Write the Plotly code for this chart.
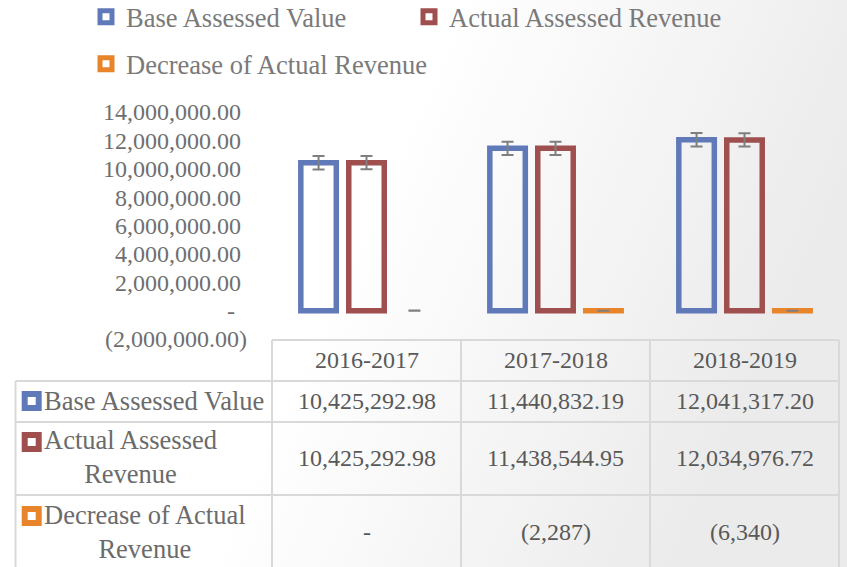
import base64
import plotly.graph_objects as go

# ---------------- data ----------------
categories = ["2016-2017", "2017-2018", "2018-2019"]
base_assessed_value = [10425292.98, 11440832.19, 12041317.20]
actual_assessed_revenue = [10425292.98, 11438544.95, 12034976.72]
decrease_actual_revenue = [0.0, -2287.24, -6340.48]

# standard-error bars (as shown in the chart)
base_err = [471000, 471000, 471000]
actual_err = [469000, 469000, 469000]
decrease_err = [1835, 1835, 1835]

series_names = ["Base Assessed Value", "Actual Assessed Revenue", "Decrease of Actual Revenue"]
table_row_labels = ["Base Assessed Value", "Actual Assessed<br>Revenue", "Decrease of Actual<br>Revenue"]

y_tick_values = [-2000000, 0, 2000000, 4000000, 6000000, 8000000, 10000000, 12000000, 14000000]
y_tick_labels = ["(2,000,000.00)", "-\u2007", "2,000,000.00\u00a0", "4,000,000.00\u00a0",
                 "6,000,000.00\u00a0", "8,000,000.00\u00a0", "10,000,000.00\u00a0",
                 "12,000,000.00\u00a0", "14,000,000.00\u00a0"]

# ---------------- style ----------------
W, H = 847, 567
FONT = "Liberation Serif"
colors = ["#6079b9", "#a04f4f", "#e8852a"]
TXT_LEGEND = "#7a7a7a"
TXT_TICK = "#6f6f6f"
TXT_TABLE = "#595959"
TXT_ROWLABEL = "#6b6b6b"
GRID = "#d9d9d9"
BAR_LINE = 5.5


def px(x):
    return x / W


def py(y):
    return 1 - y / H


def fmt2(v):
    if v == 0:
        return "-"
    return f"({abs(v):,.2f})" if v < 0 else f"{v:,.2f}"


def fmt0(v):
    if round(v) == 0:
        return "-"
    return f"({abs(v):,.0f})" if v < 0 else f"{v:,.0f}"


series_values = [base_assessed_value, actual_assessed_revenue, decrease_actual_revenue]
series_errs = [base_err, actual_err, decrease_err]
row_formats = [fmt2, fmt2, fmt0]

fig = go.Figure()
for i, (name, vals, errs) in enumerate(zip(series_names, series_values, series_errs)):
    # list non-zero points first so the legend key takes an outlined point;
    # a zero-valued bar is not outlined (only its error bar shows)
    order = sorted(range(len(vals)), key=lambda j: vals[j] == 0)
    fig.add_trace(go.Bar(
        x=[categories[j] for j in order],
        y=[vals[j] for j in order],
        name=name,
        marker=dict(color="rgba(0,0,0,0)",
                    line=dict(color=colors[i],
                              width=[BAR_LINE if vals[j] != 0 else 0 for j in order])),
        error_y=dict(type="data", array=[errs[j] for j in order], visible=True,
                     color="#7f7f7f", thickness=2, width=6),
        legend="legend" if i < 2 else "legend2",
    ))

# ---------------- axes geometry ----------------
Y_TOP_PX, Y_BOT_PX = 112, 339          # pixel rows of 14M and -2M
Y_MIN, Y_MAX = -2000000, 14000000
k = (Y_BOT_PX - Y_TOP_PX) / (Y_MAX - Y_MIN)
DOM_TOP, DOM_BOT = 100, 345
r_top = Y_MAX + (Y_TOP_PX - DOM_TOP) / k
r_bot = Y_MIN - (DOM_BOT - Y_BOT_PX) / k

X_L, X_R = 272, 839
col_edges = [272, 461, 650, 839]

# background gradient
svg = (f'<svg xmlns="http://www.w3.org/2000/svg" width="{W}" height="{H}" preserveAspectRatio="none">'
       '<defs><linearGradient id="g" x1="0" y1="0" x2="1" y2="0.3">'
       '<stop offset="0" stop-color="#ffffff"/><stop offset="0.5" stop-color="#ffffff"/>'
       '<stop offset="1" stop-color="#ebebeb"/></linearGradient></defs>'
       '<rect width="100%" height="100%" fill="url(#g)"/></svg>')
bg_src = "data:image/svg+xml;base64," + base64.b64encode(svg.encode()).decode()

shapes = []
annotations = []

# table grid
row_lines = [381, 422, 495]
TABLE_BOTTOM = 572
shapes.append(dict(type="line", xref="paper", yref="paper", x0=px(X_L), x1=px(X_R),
                   y0=py(340), y1=py(340), line=dict(color=GRID, width=2)))
for yl in row_lines:
    shapes.append(dict(type="line", xref="paper", yref="paper", x0=px(15.5), x1=px(X_R),
                       y0=py(yl), y1=py(yl), line=dict(color=GRID, width=2)))
shapes.append(dict(type="line", xref="paper", yref="paper", x0=px(15.5), x1=px(15.5),
                   y0=py(381), y1=py(TABLE_BOTTOM), line=dict(color=GRID, width=2)))
for xe in col_edges:
    shapes.append(dict(type="line", xref="paper", yref="paper", x0=px(xe), x1=px(xe),
                       y0=py(340), y1=py(TABLE_BOTTOM), line=dict(color=GRID, width=2)))

# header labels
for c in categories:
    annotations.append(dict(x=c, y=py(360), xref="x", yref="paper", text=c, showarrow=False,
                            xanchor="center", yanchor="middle",
                            font=dict(family=FONT, size=24, color=TXT_TABLE)))

row_centers = [401, 458, 532]
key_centers = [401, 442, 516]
label_centers = [401, 457, 532]
for r in range(3):
    # values
    for c, v in zip(categories, series_values[r]):
        annotations.append(dict(x=c, y=py(row_centers[r]), xref="x", yref="paper",
                                text=row_formats[r](v), showarrow=False,
                                xanchor="center", yanchor="middle",
                                font=dict(family=FONT, size=24, color=TXT_TABLE)))
    # row label
    annotations.append(dict(x=px(42), y=py(label_centers[r]), xref="paper", yref="paper",
                            text=table_row_labels[r], showarrow=False, align="center",
                            xanchor="left", yanchor="middle",
                            font=dict(family=FONT, size=26.5, color=TXT_ROWLABEL)))
    # legend key in table
    kc = key_centers[r]
    shapes.append(dict(type="rect", xref="paper", yref="paper",
                       x0=px(24.7), x1=px(38.7), y0=py(kc - 7), y1=py(kc + 7),
                       fillcolor="white", line=dict(color=colors[r], width=6)))

legend_common = dict(orientation="h", xanchor="left", yanchor="middle",
                     font=dict(family=FONT, size=26.5, color=TXT_LEGEND),
                     bgcolor="rgba(0,0,0,0)", borderwidth=0, itemwidth=30)

fig.update_layout(
    width=W, height=H,
    margin=dict(l=0, r=0, t=0, b=0, autoexpand=False),
    paper_bgcolor="white",
    plot_bgcolor="rgba(0,0,0,0)",
    font=dict(family=FONT, color=TXT_LEGEND),
    barmode="group",
    bargap=0.239,
    bargroupgap=0.26,
    showlegend=True,
    legend=dict(x=px(86), y=py(17), entrywidth=278, entrywidthmode="pixels", **legend_common),
    legend2=dict(x=px(86), y=py(64), **legend_common),
    xaxis=dict(domain=[px(X_L), px(X_R)], range=[-0.5, 2.5], showticklabels=False,
               categoryorder="array", categoryarray=categories,
               showgrid=False, zeroline=False, showline=False, ticks="", automargin=False),
    yaxis=dict(domain=[py(DOM_BOT), py(DOM_TOP)], range=[r_bot, r_top],
               tickvals=y_tick_values, ticktext=y_tick_labels, ticks="",
               showgrid=False, zeroline=False, showline=False, automargin=False,
               tickfont=dict(family=FONT, size=24, color=TXT_TICK),
               ticklabelstandoff=24),
    shapes=shapes,
    annotations=annotations,
    images=[dict(source=bg_src, xref="paper", yref="paper", x=0, y=1, sizex=1, sizey=1,
                 xanchor="left", yanchor="top", sizing="stretch", layer="below")],
)

fig.write_html("out.html", config={"displayModeBar": False},
               post_script="document.body.style.margin='0px';")
